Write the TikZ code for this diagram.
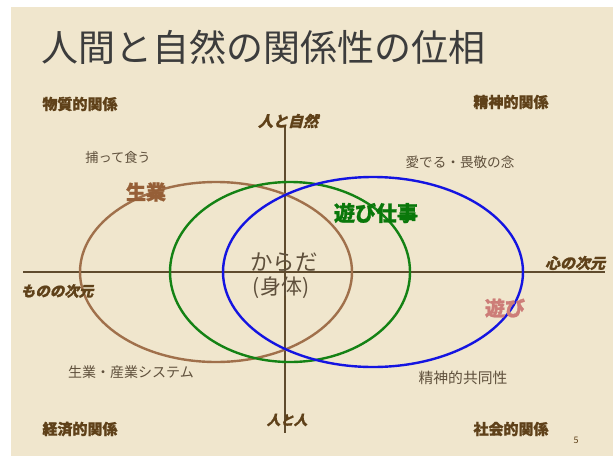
\documentclass[tikz,border=0pt]{standalone}
\usepackage{fontspec}
\setmainfont{Noto Sans CJK JP}
\newfontfamily\jp{Noto Sans CJK JP}
\newfontfamily\jph[BoldFeatures={FakeBold=1.2}]{Noto Sans CJK JP}
\newfontfamily\jpsl[FakeSlant=0.25,BoldFeatures={FakeBold=1}]{Noto Sans CJK JP}
\definecolor{paper}{RGB}{240,230,205}
\definecolor{titlec}{RGB}{60,60,60}
\definecolor{dbrown}{RGB}{95,65,25}
\definecolor{axisc}{RGB}{95,75,45}
\definecolor{lightt}{RGB}{95,80,60}
\definecolor{ebrown}{RGB}{160,112,75}
\definecolor{egreen}{RGB}{20,130,20}
\definecolor{eblue}{RGB}{20,20,225}
\definecolor{tgreen}{RGB}{10,120,10}
\definecolor{tpink}{RGB}{205,125,120}
\definecolor{tbrown}{RGB}{150,95,55}
\begin{document}
\begin{tikzpicture}[x=1pt,y=-1pt,
  corner/.style={font=\jph\bfseries\fontsize{15}{15}\selectfont, text=dbrown, inner sep=0pt},
  axlabel/.style={font=\jpsl\bfseries\fontsize{15}{15}\selectfont, text=dbrown, inner sep=0pt},
  plain/.style={font=\jp\fontsize{14}{14}\selectfont, text=lightt, inner sep=0pt},
  big/.style={font=\jph\bfseries\fontsize{20}{20}\selectfont, inner sep=0pt},
  axisline/.style={draw=axisc, line width=1.3pt},
  ell/.style={line width=2.4pt}]
\useasboundingbox (0,0) rectangle (615,458);
\fill[white] (0,0) rectangle (615,458);
\fill[paper] (11,7) rectangle (613,456);
% axes
\coordinate (vt) at (285,125);
\coordinate (vb) at (285,433);
\coordinate (hl) at (23,272);
\coordinate (hr) at (605,272);
\draw[axisline] (vt) -- (vb);
\draw[axisline] (hl) -- (hr);
% ellipses
\draw[ebrown, ell] (216,272) ellipse [x radius=136, y radius=90];
\draw[egreen, ell] (290,272) ellipse [x radius=120, y radius=90];
\draw[eblue, ell] (373,272) ellipse [x radius=150, y radius=95];
% title
\node[font=\jp\fontsize{37}{37}\selectfont, text=titlec, inner sep=0pt] (title) at (263,47) {人間と自然の関係性の位相};
% corner labels
\node[corner] (bq) at (80,104) {物質的関係};
\node[corner] (sq) at (511,102) {精神的関係};
\node[corner] (kq) at (80,429) {経済的関係};
\node[corner] (shq) at (511,429) {社会的関係};
% axis labels
\node[axlabel] (hn) at (288,121) {人と自然};
\node[axlabel] (kk) at (575,263) {心の次元};
\node[axlabel, font=\jpsl\bfseries\fontsize{14.5}{14.5}\selectfont] (mk) at (57,291) {ものの次元};
\node[axlabel, font=\jpsl\bfseries\fontsize{13.5}{13.5}\selectfont] (hh) at (287,420) {人と人};
% plain texts
\node[plain, font=\jp\fontsize{13.2}{13.2}\selectfont] (tt) at (118,157) {捕って食う};
\node[plain, font=\jp\fontsize{13.6}{13.6}\selectfont] (md) at (460,162) {愛でる・畏敬の念};
\node[plain] (ss) at (131,372) {生業・産業システム};
\node[plain, font=\jp\fontsize{14.8}{14.8}\selectfont] (sk) at (463,378) {精神的共同性};
% big labels
\node[big, text=tbrown] (ng) at (146,192) {生業};
\node[big, text=tgreen, font=\jph\bfseries\fontsize{21}{21}\selectfont] (as) at (376,213) {遊び仕事};
\node[big, text=tpink] (ab) at (505,308) {遊び};
% body
\node[font=\jp\fontsize{22.5}{22.5}\selectfont, text=lightt, inner sep=0pt] (kr) at (284,262) {からだ};
\node[font=\jp\fontsize{21}{21}\selectfont, text=lightt, inner sep=0pt] (sht) at (281,288) {(身体)};
\node[font=\jp\fontsize{9}{9}\selectfont, text=dbrown, inner sep=0pt] (pg) at (576,440) {5};
\end{tikzpicture}
\end{document}
